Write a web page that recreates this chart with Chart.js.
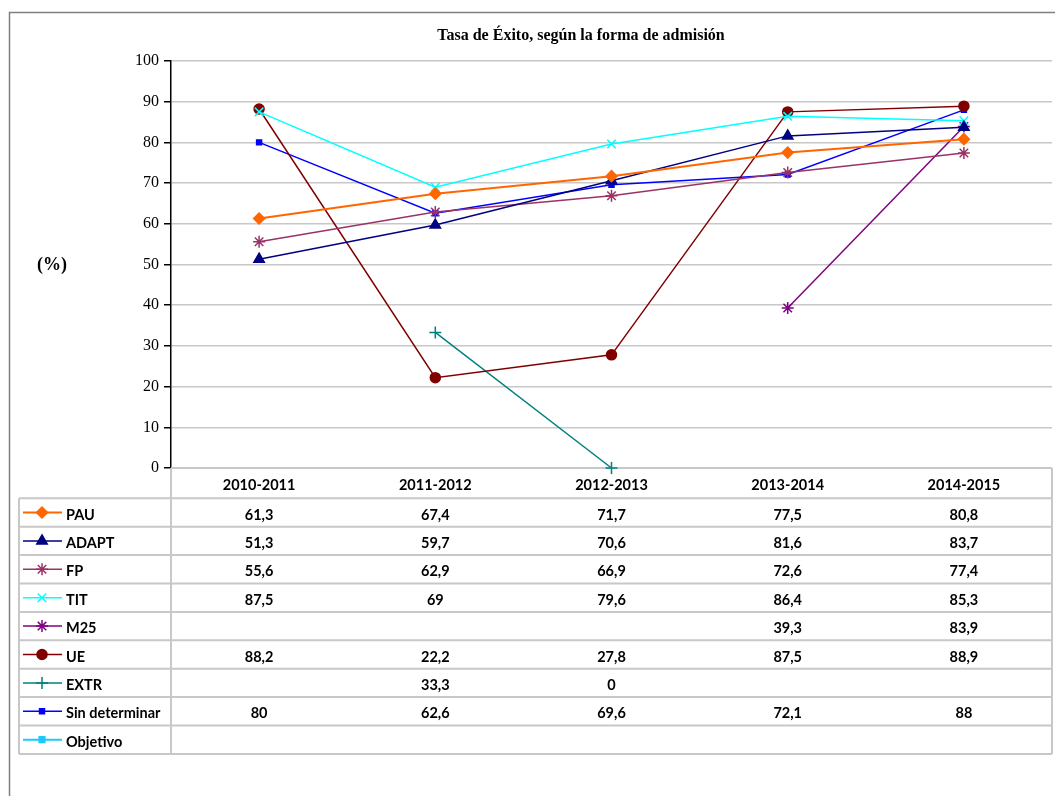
<!DOCTYPE html>
<html>
<head>
<meta charset="utf-8">
<script src="https://cdn.jsdelivr.net/npm/chart.js@4.4.1/dist/chart.umd.min.js"></script>
<style>
html,body{margin:0;padding:0;background:#fff;overflow:hidden;}
#wrap{width:1055px;height:796px;position:relative;}
canvas{display:block;}
</style>
</head>
<body>
<div id="wrap"><canvas id="c" width="1055" height="796"></canvas></div>
<script>
// ---- data ----
const titleText = 'Tasa de Éxito, según la forma de admisión';
const yAxisLabel = '(%)';
const categories = ['2010-2011', '2011-2012', '2012-2013', '2013-2014', '2014-2015'];
const seriesNames = ['PAU', 'ADAPT', 'FP', 'TIT', 'M25', 'UE', 'EXTR', 'Sin determinar', 'Objetivo'];
const pau = [61.3, 67.4, 71.7, 77.5, 80.8];
const adapt = [51.3, 59.7, 70.6, 81.6, 83.7];
const fp = [55.6, 62.9, 66.9, 72.6, 77.4];
const tit = [87.5, 69, 79.6, 86.4, 85.3];
const m25 = [null, null, null, 39.3, 83.9];
const ue = [88.2, 22.2, 27.8, 87.5, 88.9];
const extr = [null, 33.3, 0, null, null];
const sinDeterminar = [80, 62.6, 69.6, 72.1, 88];
const objetivo = [null, null, null, null, null];
const yMin = 0, yMax = 100, yStep = 10;

// ---- styles ----
const styles = [
  {color: '#FF6600', point: 'rectRot', r: 5.5, bw: 2},
  {color: '#000080', point: 'triangle', r: 6, bw: 1.5},
  {color: '#993366', point: 'star', r: 6, bw: 1.5},
  {color: '#00FFFF', point: 'crossRot', r: 6, bw: 1.5},
  {color: '#800080', point: 'star', r: 6, bw: 1.5},
  {color: '#800000', point: 'circle', r: 5, bw: 1.5},
  {color: '#008080', point: 'cross', r: 6, bw: 1.5},
  {color: '#0000FF', point: 'rect', r: 3.5, bw: 1.5},
  {color: '#1EC8FF', point: 'rect', r: 4, bw: 2}
];
const seriesData = [pau, adapt, fp, tit, m25, ue, extr, sinDeterminar, objetivo];

const datasets = seriesNames.map((name, i) => ({
  label: name,
  data: seriesData[i],
  borderColor: styles[i].color,
  backgroundColor: styles[i].color,
  borderWidth: styles[i].bw,
  pointStyle: styles[i].point,
  pointRadius: styles[i].r,
  pointHoverRadius: styles[i].r,
  pointBorderWidth: 1.5,
  pointBorderColor: styles[i].color,
  pointBackgroundColor: styles[i].color,
  tension: 0,
  spanGaps: false,
  clip: false
}));

const TABLE_LEFT = 19;
const HEADER_BOTTOM = 498.3;
const ROW_H = 28.4;
const TABLE_FONT = 'bold 14.5px Lato';

function fmt(v) {
  return v === null || v === undefined ? '' : String(v).replace('.', ',');
}

function drawMarker(ctx, st, x, y) {
  ctx.save();
  ctx.strokeStyle = st.color;
  ctx.fillStyle = st.color;
  ctx.lineWidth = 1.5;
  if (Chart.helpers && Chart.helpers.drawPoint) {
    Chart.helpers.drawPoint(ctx, {pointStyle: st.point, rotation: 0, radius: st.r, borderWidth: 1.5}, x, y);
  }
  ctx.restore();
}

const tablePlugin = {
  id: 'tablePlugin',
  beforeDatasetsDraw(chart) {
    const ctx = chart.ctx;
    const area = chart.chartArea;
    const xs = chart.scales.x;
    ctx.save();
    // outer frame
    ctx.strokeStyle = '#808080';
    ctx.lineWidth = 1.5;
    ctx.strokeRect(9.5, 12.5, 1200, 1000);

    // title
    ctx.fillStyle = '#000';
    ctx.font = 'bold 16px "Liberation Serif"';
    ctx.textAlign = 'center';
    ctx.textBaseline = 'middle';
    ctx.fillText(titleText, 581, 36);

    // y axis label
    ctx.font = 'bold 18px "Liberation Serif"';
    ctx.fillText(yAxisLabel, 52, 265);

    // table lines
    ctx.strokeStyle = '#c8c8c8';
    ctx.lineWidth = 2;
    const nRows = seriesNames.length;
    const tableBottom = HEADER_BOTTOM + nRows * ROW_H;
    ctx.beginPath();
    ctx.moveTo(area.left, area.bottom);
    ctx.lineTo(area.right, area.bottom);
    for (let i = 0; i <= nRows; i++) {
      const y = HEADER_BOTTOM + i * ROW_H;
      ctx.moveTo(TABLE_LEFT, y);
      ctx.lineTo(area.right, y);
    }
    ctx.moveTo(TABLE_LEFT, HEADER_BOTTOM);
    ctx.lineTo(TABLE_LEFT, tableBottom);
    ctx.moveTo(area.left, area.bottom);
    ctx.lineTo(area.left, tableBottom);
    ctx.moveTo(area.right, area.bottom);
    ctx.lineTo(area.right, tableBottom);
    ctx.stroke();

    // header labels
    ctx.fillStyle = '#000';
    ctx.font = TABLE_FONT;
    ctx.textAlign = 'center';
    ctx.textBaseline = 'middle';
    categories.forEach((c, j) => {
      ctx.fillText(c, xs.getPixelForValue(j), (area.bottom + HEADER_BOTTOM) / 2 + 2.5);
    });

    // rows
    seriesNames.forEach((name, i) => {
      const yc = HEADER_BOTTOM + i * ROW_H + ROW_H / 2;
      const ty = yc + 2.5;
      const st = styles[i];
      ctx.save();
      ctx.strokeStyle = st.color;
      ctx.lineWidth = st.bw;
      ctx.beginPath();
      ctx.moveTo(23, yc);
      ctx.lineTo(62, yc);
      ctx.stroke();
      ctx.restore();
      drawMarker(ctx, st, 42, yc);
      ctx.fillStyle = '#000';
      ctx.font = TABLE_FONT;
      ctx.textAlign = 'left';
      ctx.fillText(name, 66, ty);
      ctx.textAlign = 'center';
      seriesData[i].forEach((v, j) => {
        const t = fmt(v);
        if (t) ctx.fillText(t, xs.getPixelForValue(j), ty);
      });
    });
    ctx.restore();
  }
};

new Chart(document.getElementById('c'), {
  type: 'line',
  data: {labels: categories, datasets: datasets},
  options: {
    responsive: false,
    animation: false,
    layout: {autoPadding: false, padding: {top: 61, right: 3, bottom: 0, left: 0}},
    plugins: {
      legend: {display: false},
      title: {display: false},
      tooltip: {enabled: false}
    },
    scales: {
      x: {
        type: 'category',
        offset: true,
        grid: {display: false},
        border: {display: false},
        ticks: {display: false},
        afterFit(scale) {
          scale.height = 328;
          scale.paddingLeft = 0; scale.paddingRight = 0;
        }
      },
      y: {
        min: yMin,
        max: yMax,
        ticks: {
          stepSize: yStep,
          color: '#000',
          font: {family: '"Liberation Serif"', size: 16},
          padding: 5
        },
        grid: {
          color: (ctx) => ctx.tick && ctx.tick.value === 0 ? 'rgba(0,0,0,0)' : '#c8c8c8',
          lineWidth: 1.5,
          tickColor: '#000',
          tickLength: 7
        },
        border: {color: '#000', width: 1.5},
        afterFit(scale) { scale.width = 171; }
      }
    }
  },
  plugins: [tablePlugin]
});
</script>
</body>
</html>
